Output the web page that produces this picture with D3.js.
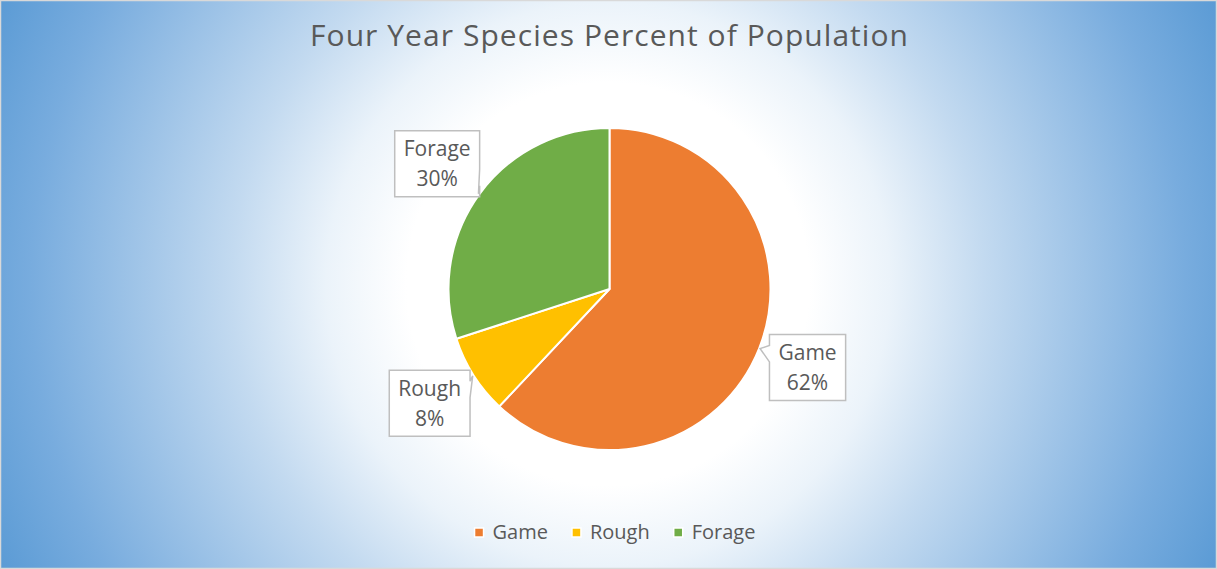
<!DOCTYPE html>
<html>
<head>
<meta charset="utf-8">
<script src="https://cdn.jsdelivr.net/npm/d3@7"></script>
<style>
  html, body { margin: 0; padding: 0; background: #ffffff; }
  svg { display: block; }
  text { font-family: "Open Sans", "Noto Sans", sans-serif; }
</style>
</head>
<body>
<svg id="chart" width="1217" height="569"></svg>
<script>
const title = "Four Year Species Percent of Population";
const categories = ["Game", "Rough", "Forage"];
const values = [62, 8, 30];
const colors = ["#ED7D31", "#FFC000", "#70AD47"];

const W = 1217, H = 569;
const svg = d3.select("#chart");

// background gradient
const defs = svg.append("defs");
const grad = defs.append("radialGradient")
  .attr("id", "bg").attr("gradientUnits", "userSpaceOnUse")
  .attr("cx", 608).attr("cy", 284).attr("r", 671).attr("fx", 608).attr("fy", 284);
[[0, "#ffffff"], [0.3, "#ffffff"], [0.42, "#ebf3fa"], [0.56, "#c3daf0"], [0.86, "#78acde"], [1, "#5b9bd5"]]
  .forEach(([o, c]) => grad.append("stop").attr("offset", o).attr("stop-color", c));
svg.append("rect").attr("x", 0).attr("y", 0).attr("width", W).attr("height", H).attr("fill", "url(#bg)");
svg.append("rect").attr("x", 0.5).attr("y", 0.5).attr("width", W - 1).attr("height", H - 1)
  .attr("fill", "none").attr("stroke", "#d9d9d9").attr("stroke-width", 1.5);

// title
svg.append("text").attr("x", 609).attr("y", 46).attr("text-anchor", "middle")
  .attr("font-size", 30).attr("fill", "#595959")
  .attr("textLength", 598).attr("lengthAdjust", "spacing").text(title);

// pie
const cx = 609.5, cy = 289, R = 161;
const pie = d3.pie().sort(null).value(d => d)(values);
const arc = d3.arc().innerRadius(0).outerRadius(R);
const g = svg.append("g").attr("transform", `translate(${cx},${cy})`);
g.selectAll("path.slice").data(pie).enter().append("path")
  .attr("class", "slice")
  .attr("d", arc)
  .attr("fill", (d, i) => colors[i])
  .attr("stroke", "#ffffff").attr("stroke-width", 2).attr("stroke-linejoin", "round");

// callout labels
function callout(bx, by, w, h, tx, ty) {
  const hc = bx + w / 2, vc = by + h / 2;
  const dxPos = tx - hc, dyPos = ty - vc;
  const dq = dxPos * h / w;
  const dz = Math.abs(dyPos) - Math.abs(dq);
  const x1 = bx + w * (dxPos > 0 ? 7 : 2) / 12, x2 = bx + w * (dxPos > 0 ? 10 : 5) / 12;
  const y1 = by + h * (dyPos > 0 ? 7 : 2) / 12, y2 = by + h * (dyPos > 0 ? 10 : 5) / 12;
  const r = bx + w, b = by + h;
  let p = `M${bx},${by}`;
  if (dz > 0 && dyPos < 0) p += `L${x1},${by}L${tx},${ty}L${x2},${by}`;
  p += `L${r},${by}`;
  if (dz <= 0 && dxPos > 0) p += `L${r},${y1}L${tx},${ty}L${r},${y2}`;
  p += `L${r},${b}`;
  if (dz > 0 && dyPos > 0) p += `L${x2},${b}L${tx},${ty}L${x1},${b}`;
  p += `L${bx},${b}`;
  if (dz <= 0 && dxPos < 0) p += `L${bx},${y2}L${tx},${ty}L${bx},${y1}`;
  return p + "Z";
}

const labelR = 213, boxH = 66, fs = 21;
const lg = svg.append("g");
pie.forEach((d, i) => {
  const a = (d.startAngle + d.endAngle) / 2;
  const lx = cx + labelR * Math.sin(a), ly = cy - labelR * Math.cos(a);
  const tipx = cx + (R + 1) * Math.sin(a), tipy = cy - (R + 1) * Math.cos(a);
  const grp = lg.append("g");
  const path = grp.append("path");
  const t1 = grp.append("text").attr("x", lx).attr("y", ly - 7.5).attr("text-anchor", "middle")
    .attr("font-size", fs).attr("fill", "#595959").text(categories[i]);
  const t2 = grp.append("text").attr("x", lx).attr("y", ly + 22.5).attr("text-anchor", "middle")
    .attr("font-size", fs).attr("fill", "#595959").text(d.data + "%");
  const tw = Math.max(t1.node().getComputedTextLength(), t2.node().getComputedTextLength());
  const bw = tw + 18;
  path.attr("d", callout(lx - bw / 2, ly - boxH / 2, bw, boxH, tipx, tipy))
    .attr("fill", "#ffffff").attr("stroke", "#bfbfbf").attr("stroke-width", 1.5);
});

// legend
const leg = svg.append("g");
let x = 0;
categories.forEach((c, i) => {
  const it = leg.append("g");
  it.append("rect").attr("x", 0).attr("y", -11).attr("width", 9).attr("height", 9)
    .attr("fill", colors[i]).attr("stroke", "#ffffff").attr("stroke-width", 1.5);
  const t = it.append("text").attr("x", 18).attr("y", 0).attr("font-size", 20).attr("fill", "#595959").text(c);
  const w = 18 + t.node().getComputedTextLength();
  it.attr("transform", `translate(${x},539)`);
  x += w + 24;
});
const total = x - 24;
leg.attr("transform", `translate(${615 - total / 2},0)`);
</script>
</body>
</html>
